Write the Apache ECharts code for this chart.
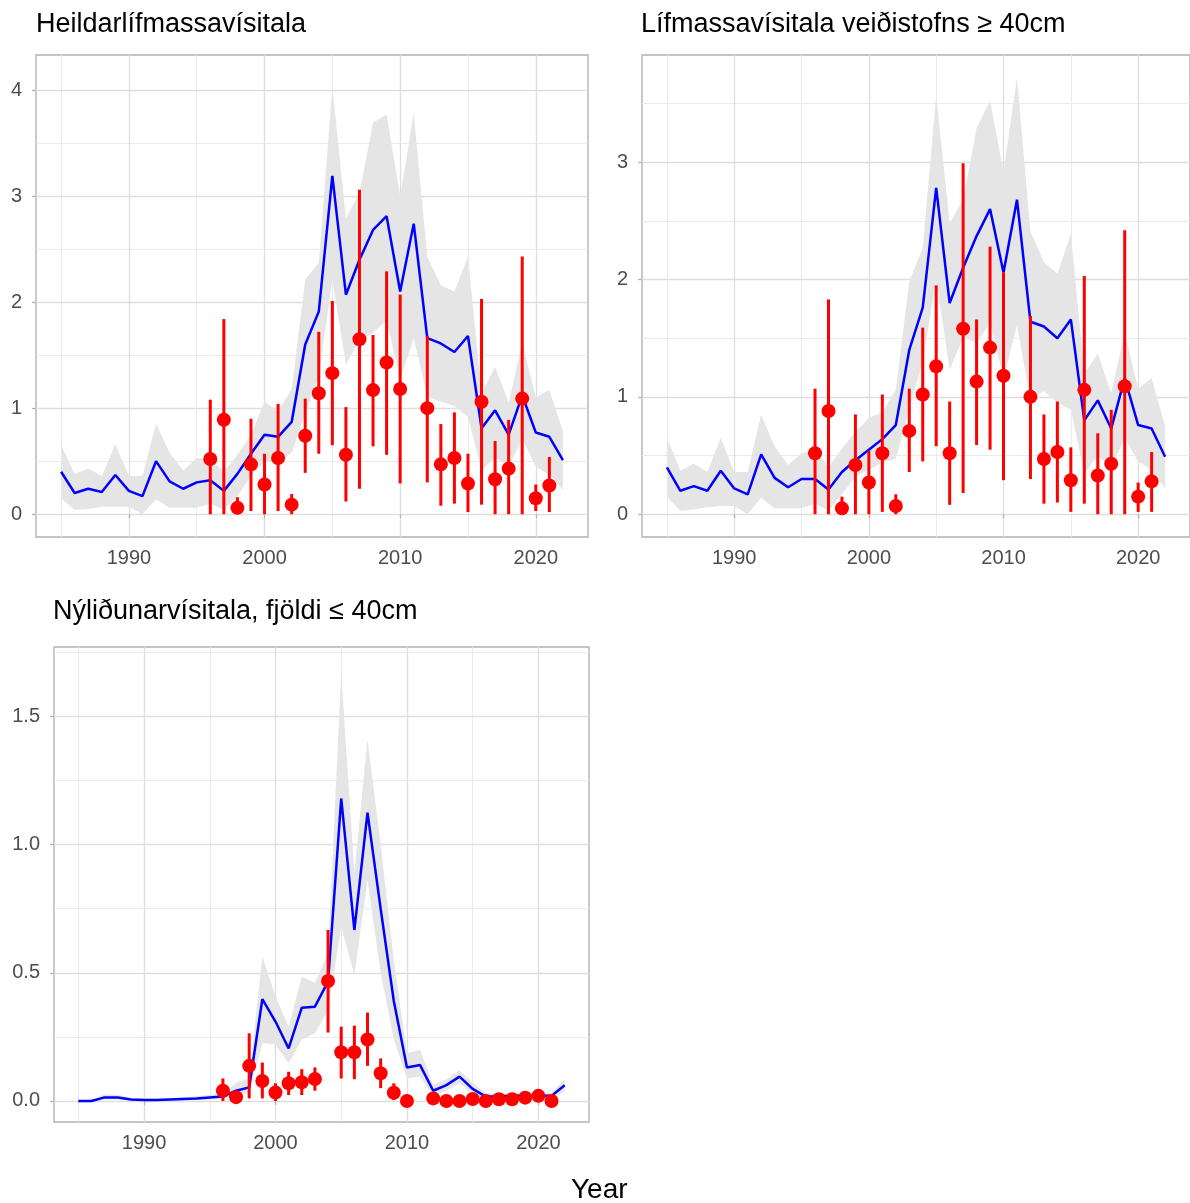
<!DOCTYPE html>
<html>
<head>
<meta charset="utf-8">
<script src="https://cdn.jsdelivr.net/npm/echarts@6/dist/echarts.min.js"></script>
<style>html,body{margin:0;padding:0;background:#fff}#c{width:1190px;height:1203px}</style>
</head>
<body>
<div id="c"></div>
<script>
// ---------- data ----------
const years = [1985,1986,1987,1988,1989,1990,1991,1992,1993,1994,1995,1996,1997,1998,1999,2000,2001,2002,2003,2004,2005,2006,2007,2008,2009,2010,2011,2012,2013,2014,2015,2016,2017,2018,2019,2020,2021,2022];
const pointYears = [1996,1997,1998,1999,2000,2001,2002,2003,2004,2005,2006,2007,2008,2009,2010,2012,2013,2014,2015,2016,2017,2018,2019,2020,2021];

const titles = ["Heildarlífmassavísitala", "Lífmassavísitala veiðistofns ≥ 40cm", "Nýliðunarvísitala, fjöldi ≤ 40cm"];
const xAxisTitle = "Year";
const xMajor = [1990, 2000, 2010, 2020];
const xMinor = [1985, 1995, 2005, 2015];
const yMajor1 = [0, 1, 2, 3, 4];
const yMinor1 = [0.5, 1.5, 2.5, 3.5];
const yMajor2 = [0, 1, 2, 3];
const yMinor2 = [0.5, 1.5, 2.5, 3.5];
const yMajor3 = [0, 0.5, 1.0, 1.5];
const yMinor3 = [0.25, 0.75, 1.25, 1.75];

// Panel 1: total biomass index
const fit1 = [0.40,0.20,0.24,0.21,0.37,0.22,0.17,0.50,0.31,0.24,0.30,0.32,0.22,0.38,0.57,0.75,0.73,0.87,1.60,1.91,3.19,2.07,2.40,2.68,2.81,2.10,2.74,1.66,1.61,1.53,1.68,0.81,0.98,0.75,1.12,0.77,0.73,0.51];
const hi1  = [0.65,0.38,0.43,0.36,0.66,0.36,0.36,0.85,0.58,0.41,0.53,0.52,0.40,0.56,0.75,1.06,0.97,1.18,2.21,2.37,4.03,2.79,3.03,3.69,3.77,3.00,3.78,2.43,2.16,2.10,2.43,1.14,1.39,1.05,1.62,1.10,1.17,0.78];
const lo1  = [0.15,0.04,0.05,0.07,0.07,0.07,0.00,0.14,0.06,0.06,0.06,0.10,0.04,0.17,0.36,0.50,0.48,0.58,0.95,1.30,2.21,1.41,1.64,1.71,1.83,1.27,1.66,1.11,1.06,1.02,0.92,0.41,0.54,0.45,0.71,0.45,0.37,0.23];
const obs1   = [0.52,0.89,0.06,0.47,0.28,0.53,0.09,0.74,1.14,1.33,0.56,1.65,1.17,1.43,1.18,1.00,0.47,0.53,0.29,1.06,0.33,0.43,1.09,0.15,0.27];
const obsLo1 = [0.00,0.00,0.00,0.03,0.00,0.03,0.00,0.39,0.57,0.65,0.12,0.24,0.64,0.56,0.29,0.30,0.08,0.10,0.02,0.09,0.00,0.00,0.00,0.03,0.02];
const obsHi1 = [1.08,1.84,0.16,0.90,0.57,1.04,0.19,1.09,1.72,2.01,1.01,3.06,1.69,2.29,2.07,1.68,0.85,0.96,0.57,2.03,0.69,0.89,2.43,0.28,0.54];

// Panel 2: fishable biomass index >= 40cm
const fit2 = [0.40,0.20,0.24,0.20,0.37,0.22,0.17,0.51,0.31,0.23,0.30,0.30,0.21,0.36,0.46,0.55,0.64,0.76,1.40,1.76,2.78,1.80,2.10,2.37,2.60,2.06,2.68,1.64,1.60,1.50,1.66,0.80,0.97,0.73,1.16,0.76,0.73,0.49];
const hi2  = [0.65,0.37,0.43,0.36,0.65,0.36,0.36,0.85,0.58,0.42,0.52,0.55,0.40,0.56,0.70,0.82,0.87,1.06,1.98,2.27,3.57,2.48,2.68,3.29,3.52,2.92,3.72,2.41,2.15,2.05,2.39,1.20,1.37,1.03,1.55,1.07,1.16,0.75];
const lo2  = [0.15,0.03,0.04,0.06,0.07,0.07,0.00,0.14,0.05,0.05,0.05,0.09,0.03,0.17,0.32,0.38,0.44,0.47,0.90,1.30,2.00,1.23,1.51,1.46,1.63,1.16,1.61,0.97,1.05,0.95,0.89,0.35,0.50,0.40,0.65,0.45,0.38,0.22];
const obs2   = [0.52,0.88,0.05,0.42,0.27,0.52,0.07,0.71,1.02,1.26,0.52,1.58,1.13,1.42,1.18,1.00,0.47,0.53,0.29,1.06,0.33,0.43,1.09,0.15,0.28];
const obsLo2 = [0.00,0.00,0.00,0.00,0.00,0.02,0.00,0.36,0.45,0.58,0.08,0.18,0.59,0.55,0.29,0.30,0.09,0.10,0.02,0.09,0.00,0.00,0.00,0.02,0.02];
const obsHi2 = [1.07,1.83,0.15,0.85,0.54,1.02,0.17,1.07,1.59,1.95,0.96,2.99,1.66,2.28,2.06,1.69,0.85,0.96,0.57,2.03,0.69,0.89,2.42,0.27,0.53];

// Panel 3: recruitment index <= 40cm
const fit3 = [0.000,0.000,0.014,0.014,0.006,0.004,0.004,0.006,0.008,0.010,0.014,0.017,0.040,0.053,0.397,0.310,0.205,0.364,0.368,0.466,1.180,0.667,1.125,0.750,0.390,0.131,0.140,0.040,0.062,0.095,0.047,0.017,0.017,0.020,0.020,0.020,0.020,0.061];
const hi3  = [0.004,0.004,0.025,0.024,0.013,0.010,0.010,0.012,0.015,0.018,0.024,0.030,0.070,0.090,0.563,0.410,0.290,0.485,0.460,0.576,1.670,0.890,1.410,1.000,0.550,0.186,0.200,0.062,0.085,0.120,0.070,0.030,0.030,0.033,0.033,0.033,0.033,0.085];
const lo3  = [0.000,0.000,0.006,0.006,0.002,0.001,0.001,0.002,0.003,0.004,0.006,0.008,0.020,0.030,0.225,0.220,0.147,0.240,0.264,0.355,0.680,0.490,0.862,0.500,0.240,0.088,0.095,0.020,0.040,0.070,0.028,0.008,0.008,0.010,0.010,0.010,0.010,0.040];
const obs3   = [0.040,0.015,0.137,0.078,0.033,0.069,0.073,0.086,0.468,0.190,0.190,0.240,0.108,0.032,0.000,0.010,0.000,0.000,0.008,0.000,0.007,0.007,0.013,0.020,0.000];
const obsLo3 = [0.000,0.005,0.010,0.010,0.000,0.023,0.023,0.040,0.267,0.088,0.085,0.137,0.050,0.004,0.000,0.005,0.000,0.000,0.004,0.000,0.003,0.003,0.007,0.005,0.000];
const obsHi3 = [0.088,0.025,0.264,0.150,0.069,0.114,0.124,0.131,0.667,0.290,0.294,0.345,0.166,0.069,0.000,0.015,0.000,0.000,0.012,0.000,0.011,0.011,0.019,0.035,0.000];

// ---------- layout / style ----------
const FONT = 'Liberation Sans, Arial, Helvetica, sans-serif';
const panels = [
  {grid:{left:36, top:55, width:552, height:482}, ymin:-0.215, ymax:4.33, yMajor:yMajor1, yMinor:yMinor1, fmt:v=>String(v),
   fit:fit1, lo:lo1, hi:hi1, obs:obs1, obsLo:obsLo1, obsHi:obsHi1, title:{left:36, top:11}},
  {grid:{left:642, top:55, width:563, height:482}, ymin:-0.194, ymax:3.913, yMajor:yMajor2, yMinor:yMinor2, fmt:v=>String(v),
   fit:fit2, lo:lo2, hi:hi2, obs:obs2, obsLo:obsLo2, obsHi:obsHi2, title:{left:641, top:11}},
  {grid:{left:54, top:647, width:535, height:475}, ymin:-0.082, ymax:1.771, yMajor:yMajor3, yMinor:yMinor3, fmt:v=>v.toFixed(1),
   fit:fit3, lo:lo3, hi:hi3, obs:obs3, obsLo:obsLo3, obsHi:obsHi3, title:{left:53, top:598}}
];
const XMIN = 1983.15, XMAX = 2023.85;

const grid = [], xAxis = [], yAxis = [], series = [], title = [];
panels.forEach((p, g) => {
  grid.push(Object.assign({show:true, borderColor:'#b3b3b3', borderWidth:1.4, backgroundColor:'#ffffff', containLabel:false}, p.grid));
  title.push({text: titles[g], left:p.title.left, top:p.title.top, padding:0,
    textStyle:{fontFamily:FONT, fontSize:27, fontWeight:'normal', color:'#000000'}});
  // major x
  xAxis.push({type:'value', gridIndex:g, min:XMIN, max:XMAX, position:'bottom',
    axisLine:{show:false},
    axisTick:{show:true, length:4, customValues:xMajor, lineStyle:{color:'#b3b3b3', width:1.3}},
    axisLabel:{show:true, customValues:xMajor, color:'#4d4d4d', fontSize:20, fontFamily:FONT, margin:11, formatter:v=>String(v)},
    splitLine:{show:true, lineStyle:{color:'#dedede', width:1.3}}, z:1});
  // minor x
  xAxis.push({type:'value', gridIndex:g, min:XMIN, max:XMAX, position:'bottom',
    axisLine:{show:false}, axisTick:{show:false, customValues:xMinor}, axisLabel:{show:false, customValues:xMinor},
    splitLine:{show:true, lineStyle:{color:'#ebebeb', width:1}}, z:0});
  yAxis.push({type:'value', gridIndex:g, min:p.ymin, max:p.ymax, position:'left',
    axisLine:{show:false},
    axisTick:{show:true, length:4, customValues:p.yMajor, lineStyle:{color:'#b3b3b3', width:1.3}},
    axisLabel:{show:true, customValues:p.yMajor, color:'#4d4d4d', fontSize:20, fontFamily:FONT, margin:14, formatter:p.fmt},
    splitLine:{show:true, lineStyle:{color:'#dedede', width:1.3}}, z:1});
  yAxis.push({type:'value', gridIndex:g, min:p.ymin, max:p.ymax, position:'left',
    axisLine:{show:false}, axisTick:{show:false, customValues:p.yMinor}, axisLabel:{show:false, customValues:p.yMinor},
    splitLine:{show:true, lineStyle:{color:'#ebebeb', width:1}}, z:0});

  const xi = g*2, yi = g*2;
  // confidence band
  series.push({type:'custom', xAxisIndex:xi, yAxisIndex:yi, silent:true, z:2,
    data:[[years[0], p.fit[0]]],
    renderItem:(params, api) => {
      const pts = [];
      for (let i = 0; i < years.length; i++) pts.push(api.coord([years[i], p.hi[i]]));
      for (let i = years.length - 1; i >= 0; i--) pts.push(api.coord([years[i], p.lo[i]]));
      return {type:'polygon', shape:{points:pts}, style:{fill:'#e5e5e5', stroke:null}};
    }});
  // fitted line
  series.push({type:'line', xAxisIndex:xi, yAxisIndex:yi, z:3, silent:true,
    data: years.map((y, i) => [y, p.fit[i]]), showSymbol:false, symbol:'none',
    lineStyle:{color:'#0000ff', width:2.5}});
  // error bars
  series.push({type:'custom', xAxisIndex:xi, yAxisIndex:yi, z:4, silent:true,
    data: pointYears.map((y, i) => [y, p.obsLo[i], p.obsHi[i]]),
    encode:{x:0, y:[1,2]},
    renderItem:(params, api) => {
      const a = api.coord([api.value(0), api.value(1)]);
      const b = api.coord([api.value(0), api.value(2)]);
      return {type:'line', shape:{x1:a[0], y1:a[1], x2:b[0], y2:b[1]}, style:{stroke:'#ff0000', lineWidth:3}};
    }});
  // observed points
  series.push({type:'scatter', xAxisIndex:xi, yAxisIndex:yi, z:5, silent:true,
    data: pointYears.map((y, i) => [y, p.obs[i]]), symbol:'circle', symbolSize:14,
    itemStyle:{color:'#ff0000', opacity:1}});
});
title.push({text:xAxisTitle, left:571, top:1176, padding:0,
  textStyle:{fontFamily:FONT, fontSize:28, fontWeight:'normal', color:'#000000'}});

const chart = echarts.init(document.getElementById('c'), null, {renderer:'canvas'});
chart.setOption({animation:false, backgroundColor:'#ffffff', title, grid, xAxis, yAxis, series});
</script>
</body>
</html>
